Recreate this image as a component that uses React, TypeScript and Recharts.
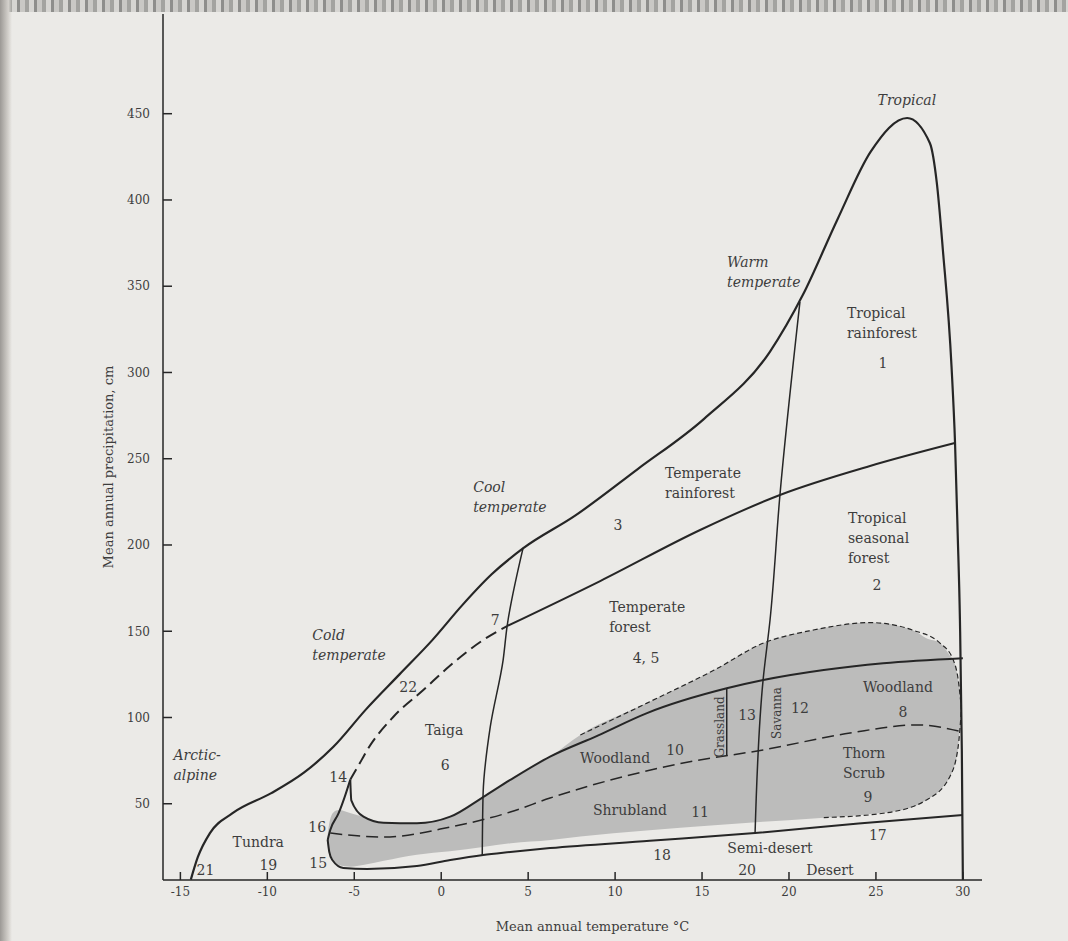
import React from "react";
import { ComposedChart, Line, Area, Scatter, XAxis, YAxis } from "recharts";

// temperature (t, °C) / precipitation (p, cm)
const outerBoundary = [
  { t: -14.4, p: 6 }, { t: -14.0, p: 19 }, { t: -13.3, p: 33 }, { t: -12.0, p: 44.5 },
  { t: -9.8, p: 56 }, { t: -7.9, p: 68 }, { t: -6.2, p: 83 }, { t: -4.3, p: 105 },
  { t: -2.4, p: 125 }, { t: -0.5, p: 145 }, { t: 1.2, p: 165 }, { t: 2.9, p: 183 },
  { t: 4.7, p: 198 }, { t: 7.7, p: 217 }, { t: 11.3, p: 244 }, { t: 15.1, p: 273 },
  { t: 18.9, p: 312 }, { t: 20.8, p: 345 }, { t: 22.8, p: 389 }, { t: 24.7, p: 428 },
  { t: 26.8, p: 447.5 }, { t: 28.1, p: 433 }, { t: 28.5, p: 410 }, { t: 28.85, p: 371 },
  { t: 29.35, p: 303 }, { t: 29.55, p: 259 }, { t: 29.7, p: 207 }, { t: 29.83, p: 157 },
  { t: 29.94, p: 81 }, { t: 30, p: 6 },
];

const innerCurve = [
  { t: -5.23, p: 64 }, { t: -5.17, p: 52 }, { t: -4.47, p: 42.5 }, { t: -3.32, p: 39 },
  { t: -1.4, p: 38.7 }, { t: 0.52, p: 42.5 }, { t: 2.43, p: 54 }, { t: 3.97, p: 63.8 },
  { t: 6.26, p: 77.3 }, { t: 9, p: 89.5 }, { t: 11.8, p: 102.4 }, { t: 16.42, p: 116.9 },
  { t: 18.52, p: 121.7 }, { t: 22, p: 127.5 }, { t: 25.42, p: 131.4 }, { t: 30, p: 134.3 },
];

const loopUpper = [
  { t: -6.53, p: 29 }, { t: -6.38, p: 34.8 }, { t: -5.9, p: 44.5 }, { t: -5.55, p: 54 }, { t: -5.23, p: 64 },
];

const loopLower = [
  { t: -6.53, p: 29 }, { t: -6.44, p: 22.2 }, { t: -6.26, p: 17.4 }, { t: -5.63, p: 12.8 },
  { t: -4.25, p: 12.2 }, { t: -1.4, p: 13.9 }, { t: 0.52, p: 17.4 }, { t: 2.41, p: 20.3 },
  { t: 3.97, p: 22 }, { t: 6.26, p: 24.3 }, { t: 12, p: 28.5 }, { t: 18.05, p: 33 },
  { t: 24, p: 38.5 }, { t: 30, p: 43.5 },
];

const taigaDashed = [
  { t: -5.23, p: 64 }, { t: -4.6, p: 75 }, { t: -4.25, p: 81.2 }, { t: -2.76, p: 100.3 },
  { t: -1.03, p: 115.9 }, { t: 0.5, p: 130 }, { t: 2.41, p: 144.9 }, { t: 3.79, p: 153 },
];

const seasonalLine = [
  { t: 3.79, p: 153 }, { t: 9.14, p: 179.1 }, { t: 14.89, p: 208.7 },
  { t: 19.48, p: 229 }, { t: 24.66, p: 245.8 }, { t: 29.54, p: 259.1 },
];

const coolVertical = [
  { t: 2.36, p: 20.3 }, { t: 2.41, p: 56.2 }, { t: 2.82, p: 94.5 },
  { t: 3.56, p: 133.3 }, { t: 3.79, p: 153 }, { t: 4.71, p: 198.3 },
];

const warmVertical = [
  { t: 18.05, p: 33 }, { t: 18.51, p: 121.7 }, { t: 18.91, p: 156.5 },
  { t: 19.48, p: 229 }, { t: 20.63, p: 340.9 },
];

const grasslandLine = [{ t: 16.42, p: 77.7 }, { t: 16.42, p: 116.9 }];

const woodlandDivide = [
  { t: -6.38, p: 33 }, { t: -3.33, p: 30.7 }, { t: 0.52, p: 36.5 }, { t: 3.97, p: 45.2 },
  { t: 6.26, p: 53.3 }, { t: 13.91, p: 73.6 }, { t: 18.51, p: 81.2 }, { t: 23.51, p: 91 },
  { t: 27.36, p: 95.7 }, { t: 30, p: 91.6 },
];

const blobTop = [
  { t: 8, p: 89.9 }, { t: 11.8, p: 108.2 }, { t: 15.7, p: 127.5 }, { t: 18.5, p: 143 },
  { t: 21.4, p: 150.7 }, { t: 24.7, p: 155 }, { t: 27.1, p: 150.7 }, { t: 28.7, p: 143 },
  { t: 29.45, p: 133.3 }, { t: 29.73, p: 122 }, { t: 29.92, p: 105 },
];

const blobBottom = [
  { t: 22, p: 42 }, { t: 25.42, p: 44.5 }, { t: 27.91, p: 52.2 },
  { t: 29.25, p: 65.7 }, { t: 29.73, p: 83.1 }, { t: 29.92, p: 105 },
];

// shaded woodland / shrubland zone
const blobT = [-6.55, -6.45, -6.2, -5.9, -5.2, -4.5, -3.3, -1.4, 0.5, 2.4, 4.0, 6.3, 8.0, 11.8, 15.7, 18.5, 21.4, 24.7, 27.1, 27.9, 28.7, 29.25, 29.45, 29.73, 29.92];
const blobLow = [28.5, 22, 17.5, 14.5, 13.5, 14.5, 17, 20.5, 22.5, 25, 27.1, 29, 31, 34.5, 37.5, 39.5, 41.5, 44, 48, 52.2, 58, 65.7, 70, 83.1, 104.3];
const blobHigh = [30, 38, 45, 46.4, 44.5, 42.5, 39, 38.7, 42.5, 54, 63.8, 77.5, 89.9, 108.2, 127.5, 143, 150.7, 155, 150.7, 146, 143, 136, 133.3, 122, 106];
const blob = blobT.map((t, i) => ({ t, range: [blobLow[i], blobHigh[i]] }));

const xTicks = [-15, -10, -5, 0, 5, 10, 15, 20, 25, 30];
const yTicks = [50, 100, 150, 200, 250, 300, 350, 400, 450];

type Lbl = { t: number; p: number; lines: string[]; anchor?: string; italic?: boolean; rotate?: boolean };
const labels: Lbl[] = [
  { t: 26.78, p: 458, lines: ["Tropical"], italic: true },
  { t: 16.44, p: 364, lines: ["Warm", "temperate"], anchor: "start", italic: true },
  { t: 23.33, p: 334.5, lines: ["Tropical", "rainforest"], anchor: "start" },
  { t: 25.4, p: 305.5, lines: ["1"] },
  { t: 12.87, p: 241.7, lines: ["Temperate", "rainforest"], anchor: "start" },
  { t: 10.17, p: 211.6, lines: ["3"] },
  { t: 23.39, p: 215.7, lines: ["Tropical", "seasonal", "forest"], anchor: "start" },
  { t: 25.06, p: 176.8, lines: ["2"] },
  { t: 1.84, p: 233.6, lines: ["Cool", "temperate"], anchor: "start", italic: true },
  { t: 9.66, p: 164.1, lines: ["Temperate", "forest"], anchor: "start" },
  { t: 11.78, p: 134.5, lines: ["4, 5"] },
  { t: 3.1, p: 156.5, lines: ["7"] },
  { t: -7.41, p: 147.8, lines: ["Cold", "temperate"], anchor: "start", italic: true },
  { t: -1.9, p: 117.7, lines: ["22"] },
  { t: 0.17, p: 92.8, lines: ["Taiga"] },
  { t: 0.23, p: 72.5, lines: ["6"] },
  { t: -5.92, p: 65.5, lines: ["14"] },
  { t: -7.13, p: 36.5, lines: ["16"] },
  { t: -7.07, p: 15.7, lines: ["15"] },
  { t: -10.52, p: 27.8, lines: ["Tundra"] },
  { t: -9.94, p: 14.5, lines: ["19"] },
  { t: -13.56, p: 11.6, lines: ["21"] },
  { t: -15.4, p: 78.3, lines: ["Arctic-", "alpine"], anchor: "start", italic: true },
  { t: 10.0, p: 76.5, lines: ["Woodland"] },
  { t: 13.45, p: 81.2, lines: ["10"] },
  { t: 10.86, p: 46.4, lines: ["Shrubland"] },
  { t: 14.89, p: 45.2, lines: ["11"] },
  { t: 12.7, p: 20.3, lines: ["18"] },
  { t: 18.91, p: 24.3, lines: ["Semi-desert"] },
  { t: 17.59, p: 11.6, lines: ["20"] },
  { t: 22.36, p: 11.6, lines: ["Desert"] },
  { t: 25.11, p: 31.9, lines: ["17"] },
  { t: 23.1, p: 79.4, lines: ["Thorn", "Scrub"], anchor: "start" },
  { t: 24.54, p: 53.9, lines: ["9"] },
  { t: 24.25, p: 117.7, lines: ["Woodland"], anchor: "start" },
  { t: 26.55, p: 103.2, lines: ["8"] },
  { t: 17.59, p: 101.4, lines: ["13"] },
  { t: 20.63, p: 105.5, lines: ["12"] },
  { t: 16.0, p: 94.5, lines: ["Grassland"], rotate: true },
  { t: 19.31, p: 102.6, lines: ["Savanna"], rotate: true },
];

const INK = "#262626";
const TEXT = "#3d3d3d";
const FONT = "'DejaVu Serif', 'Liberation Serif', serif";

const renderLabel = (props: any) => {
  const { cx, cy, payload } = props;
  if (cx == null || cy == null) return <g />;
  const anchor = payload.anchor || "middle";
  return (
    <text
      x={cx}
      y={cy}
      textAnchor={anchor}
      fontFamily={FONT}
      fontSize={payload.rotate ? 12 : 14}
      fill={TEXT}
      fontStyle={payload.italic ? "italic" : "normal"}
      transform={payload.rotate ? `rotate(-90 ${cx} ${cy})` : undefined}
    >
      {payload.lines.map((l: string, i: number) => (
        <tspan key={i} x={cx} dy={i === 0 ? "0.35em" : 20}>
          {l}
        </tspan>
      ))}
    </text>
  );
};

const YTitle = (props: any) => {
  const vb = props.viewBox || { x: 103, y: 14, width: 60, height: 866 };
  const x = vb.x + 5;
  const y = vb.y + vb.height / 2 + 20;
  return (
    <text
      x={x}
      y={y}
      textAnchor="middle"
      dominantBaseline="central"
      fontFamily={FONT}
      fontSize={13}
      fill={TEXT}
      transform={`rotate(-90 ${x} ${y})`}
    >
      Mean annual precipitation, cm
    </text>
  );
};

const lineProps = {
  dataKey: "p",
  dot: false,
  activeDot: false,
  isAnimationActive: false,
  legendType: "none" as const,
  stroke: INK,
};

export default function App() {
  return (
    <div style={{ position: "fixed", left: 0, top: 0, width: 1068, height: 941, background: "#ebeae7", overflow: "hidden" }}>
      <div
        style={{
          position: "absolute", left: 0, top: 0, width: 1068, height: 12,
          background: "repeating-linear-gradient(90deg, #8e8e8c 0 3px, #c9c8c5 3px 8px, #a3a3a0 8px 12px, #d6d5d2 12px 17px)",
        }}
      />
      <div
        style={{
          position: "absolute", left: 0, top: 0, width: 12, height: 941,
          background: "linear-gradient(90deg, #9c9995, #d4d1cc 70%, rgba(235,234,231,0))",
        }}
      />
      <div style={{ position: "absolute", left: 0, top: 0 }}>
        <ComposedChart width={1068} height={941} margin={{ top: 14, right: 86, bottom: 6, left: 103 }}>
          <XAxis
            type="number"
            dataKey="t"
            domain={[-16, 31.1]}
            allowDataOverflow
            ticks={xTicks}
            height={55}
            tickSize={-8}
            tickMargin={15}
            stroke={INK}
            strokeWidth={1.5}
            tick={{ fill: TEXT, fontFamily: FONT, fontSize: 12 }}
            label={{ value: "Mean annual temperature °C", position: "insideBottom", offset: 4, dx: 20, fill: TEXT, fontFamily: FONT, fontSize: 13 }}
          />
          <YAxis
            type="number"
            dataKey="p"
            domain={[5.8, 507.8]}
            allowDataOverflow
            ticks={yTicks}
            width={60}
            tickSize={-9}
            tickMargin={22}
            stroke={INK}
            strokeWidth={1.5}
            tick={{ fill: TEXT, fontFamily: FONT, fontSize: 12 }}
            label={<YTitle />}
          />
          <Area
            data={blob}
            dataKey="range"
            type="monotone"
            fill="#bcbcbb"
            fillOpacity={1}
            stroke="none"
            isAnimationActive={false}
            legendType="none"
            activeDot={false}
          />
          <Line {...lineProps} data={outerBoundary} type="monotone" strokeWidth={2.2} />
          <Line {...lineProps} data={innerCurve} type="monotone" strokeWidth={2} />
          <Line {...lineProps} data={loopUpper} type="monotone" strokeWidth={2} />
          <Line {...lineProps} data={loopLower} type="monotone" strokeWidth={2} />
          <Line {...lineProps} data={taigaDashed} type="monotone" strokeWidth={2} strokeDasharray="12 6" />
          <Line {...lineProps} data={seasonalLine} type="monotone" strokeWidth={2} />
          <Line {...lineProps} data={coolVertical} type="monotoneY" strokeWidth={1.5} />
          <Line {...lineProps} data={warmVertical} type="monotoneY" strokeWidth={1.5} />
          <Line {...lineProps} data={grasslandLine} type="linear" strokeWidth={1.5} />
          <Line {...lineProps} data={woodlandDivide} type="monotone" strokeWidth={1.5} strokeDasharray="12 6" />
          <Line {...lineProps} data={blobTop} type="monotone" strokeWidth={1.2} strokeDasharray="5 3" />
          <Line {...lineProps} data={blobBottom} type="monotone" strokeWidth={1.2} strokeDasharray="5 3" />
          <Scatter data={labels} dataKey="p" shape={renderLabel} isAnimationActive={false} legendType="none" />
        </ComposedChart>
      </div>
    </div>
  );
}
